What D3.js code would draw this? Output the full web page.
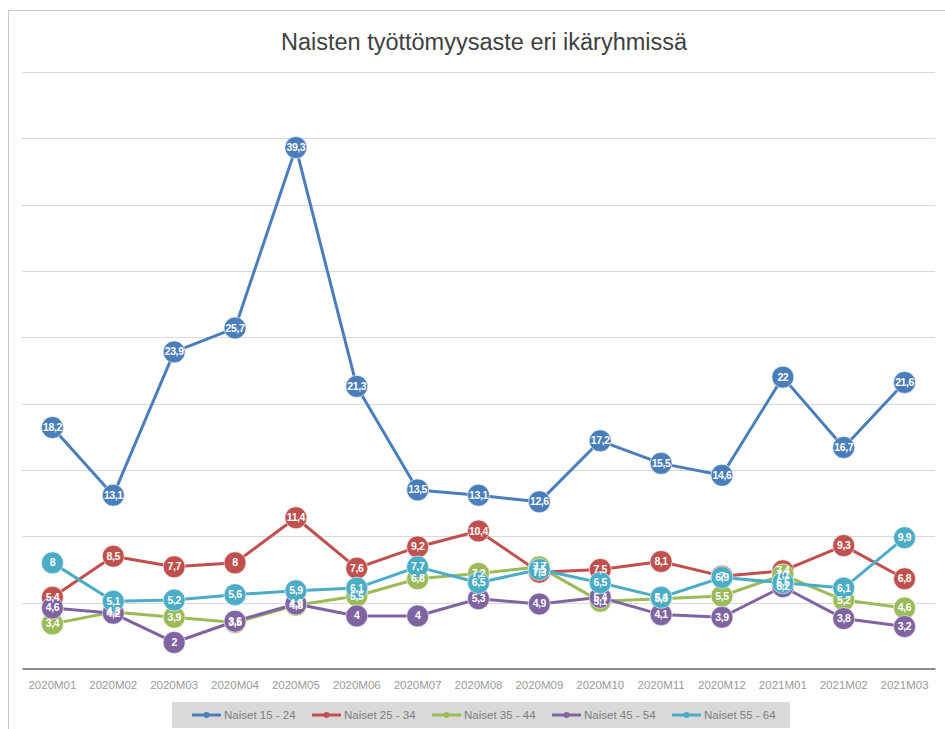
<!DOCTYPE html>
<html>
<head>
<meta charset="utf-8">
<script src="https://cdnjs.cloudflare.com/ajax/libs/d3/7.8.5/d3.min.js"></script>
<style>
  body { margin: 0; background: #fff; }
  svg { display: block; }
</style>
</head>
<body>
<svg width="945" height="729"></svg>
<script>
var months = ["2020M01", "2020M02", "2020M03", "2020M04", "2020M05", "2020M06", "2020M07",
              "2020M08", "2020M09", "2020M10", "2020M11", "2020M12", "2021M01", "2021M02", "2021M03"];

var names = ["Naiset 15 - 24", "Naiset 25 - 34", "Naiset 35 - 44", "Naiset 45 - 54", "Naiset 55 - 64"];
var colors = ["#4a7ebb", "#c0504d", "#9bbb59", "#8064a2", "#4bacc6"];

var age15 = [18.2, 13.1, 23.9, 25.7, 39.3, 21.3, 13.5, 13.1, 12.6, 17.2, 15.5, 14.6, 22, 16.7, 21.6];
var age25 = [5.4, 8.5, 7.7, 8, 11.4, 7.6, 9.2, 10.4, 7.3, 7.5, 8.1, 7.0, 7.4, 9.3, 6.8];
var age35 = [3.4, 4.3, 3.9, 3.5, 4.8, 5.5, 6.8, 7.2, 7.7, 5.1, 5.3, 5.5, 7.1, 5.2, 4.6];
var age45 = [4.6, 4.2, 2, 3.6, 4.9, 4, 4, 5.3, 4.9, 5.4, 4.1, 3.9, 6.2, 3.8, 3.2];
var age55 = [8, 5.1, 5.2, 5.6, 5.9, 6.1, 7.7, 6.5, 7.5, 6.5, 5.4, 6.9, 6.5, 6.1, 9.9];

var series = [age15, age25, age35, age45, age55];
var gridTicks = [0, 5, 10, 15, 20, 25, 30, 35, 40, 45];

var svg = d3.select("svg");

var x = d3.scaleBand().domain(months).range([22, 935]);
var y = d3.scaleLinear().domain([0, 45]).range([669, 72]);
var cx = function(i) { return x(months[i]) + x.bandwidth() / 2; };

var fmt = function(v) { return String(v).replace(".", ","); };

// chart frame
svg.append("rect")
    .attr("x", 8.5).attr("y", 10.5)
    .attr("width", 960).attr("height", 740)
    .attr("fill", "none")
    .attr("stroke", "#c8c8c8");

// title
svg.append("text")
    .attr("x", 484).attr("y", 50)
    .attr("text-anchor", "middle")
    .style("font-family", "'Liberation Sans', sans-serif")
    .style("font-size", "23.5px")
    .style("fill", "#404040")
    .text("Naisten työttömyysaste eri ikäryhmissä");

// gridlines
svg.append("g")
  .selectAll("line")
  .data(gridTicks.filter(function(d) { return d > 0; }))
  .enter().append("line")
    .attr("x1", 22).attr("x2", 935)
    .attr("y1", function(d) { return Math.round(y(d)) + 0.5; })
    .attr("y2", function(d) { return Math.round(y(d)) + 0.5; })
    .attr("stroke", "#d9d9d9")
    .attr("stroke-width", 1);

// x axis
var xAxis = svg.append("g")
    .attr("transform", "translate(0," + (Math.round(y(0)) - 0.5) + ")")
    .call(d3.axisBottom(x).tickSize(0).tickPadding(12));
xAxis.select(".domain").attr("stroke", "#8c8c8c").attr("stroke-width", 2);
xAxis.selectAll("text")
    .style("font-family", "'Liberation Sans', sans-serif")
    .style("font-size", "11.5px")
    .style("fill", "#9a9a9a");

var line = d3.line()
    .x(function(d, i) { return cx(i); })
    .y(function(d) { return y(d); });

// lines and markers
series.forEach(function(s, k) {
  var g = svg.append("g");
  g.append("path")
      .datum(s)
      .attr("d", line)
      .attr("fill", "none")
      .attr("stroke", colors[k])
      .attr("stroke-width", 3)
      .attr("stroke-linejoin", "round");
  g.selectAll("circle")
    .data(s)
    .enter().append("circle")
      .attr("cx", function(d, i) { return cx(i); })
      .attr("cy", function(d) { return y(d); })
      .attr("r", 11)
      .attr("fill", colors[k])
      .attr("stroke", "#ffffff")
      .attr("stroke-opacity", 0.6)
      .attr("stroke-width", 1);
});

// data labels on top
series.forEach(function(s, k) {
  svg.append("g")
    .selectAll("text")
    .data(s)
    .enter().append("text")
      .attr("x", function(d, i) { return cx(i); })
      .attr("y", function(d) { return y(d) + 3.5; })
      .attr("text-anchor", "middle")
      .style("font-family", "'Liberation Sans', sans-serif")
      .style("font-size", "10.5px")
      .style("font-weight", "bold")
      .style("letter-spacing", "-0.4px")
      .style("fill", "#ffffff")
      .text(function(d) { return fmt(d); });
});

// legend
svg.append("rect")
    .attr("x", 172).attr("y", 702)
    .attr("width", 618).attr("height", 26)
    .attr("fill", "#d9d9d9");

var legend = svg.append("g")
  .selectAll("g")
  .data(names)
  .enter().append("g")
    .attr("transform", function(d, i) { return "translate(" + (192 + i * 120) + ",715)"; });

legend.append("line")
    .attr("x1", 0).attr("x2", 29)
    .attr("stroke", function(d, i) { return colors[i]; })
    .attr("stroke-width", 3);
legend.append("circle")
    .attr("cx", 14.5).attr("r", 3)
    .attr("fill", function(d, i) { return colors[i]; });
legend.append("text")
    .attr("x", 32).attr("y", 4)
    .style("font-family", "'Liberation Sans', sans-serif")
    .style("font-size", "11.5px")
    .style("fill", "#7f7f7f")
    .text(function(d) { return d; });
</script>
</body>
</html>
